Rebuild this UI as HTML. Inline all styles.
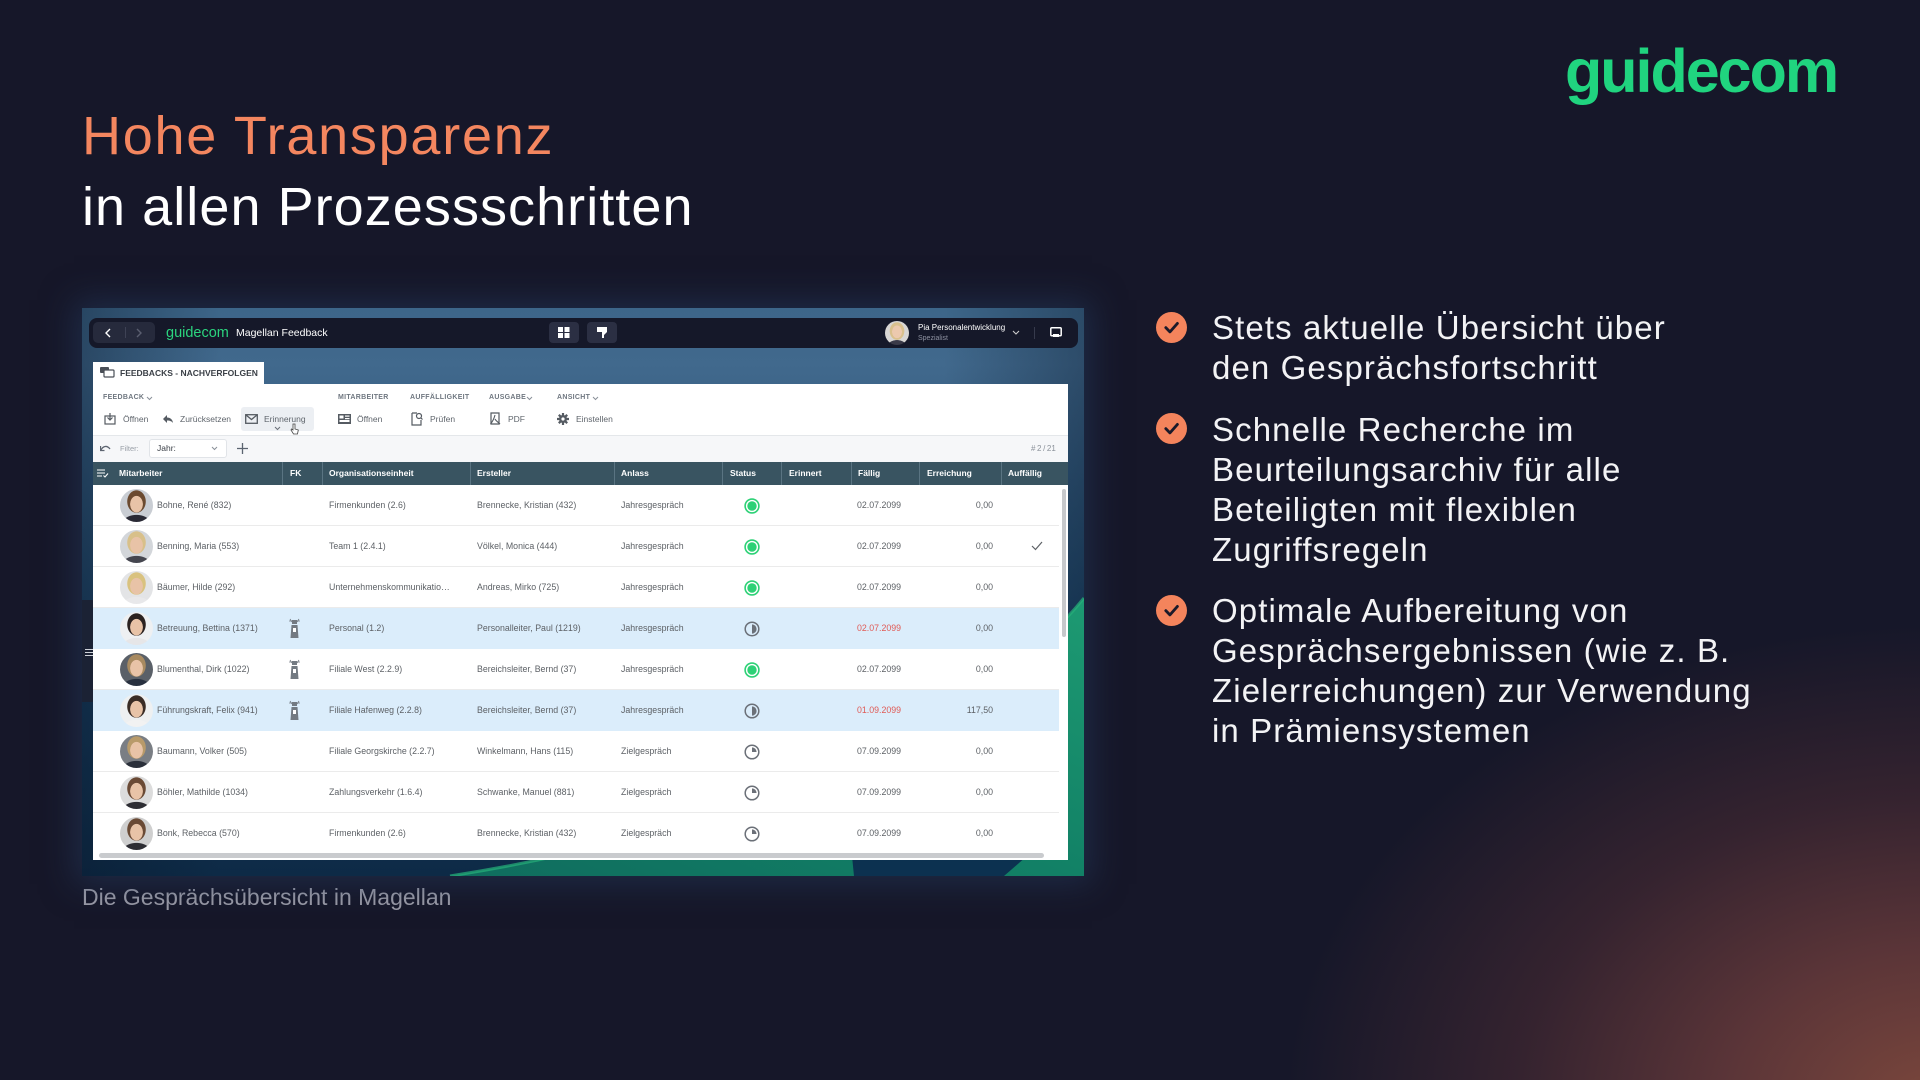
<!DOCTYPE html>
<html lang="de"><head><meta charset="utf-8">
<style>
*{margin:0;padding:0;box-sizing:border-box}
html,body{width:1920px;height:1080px;overflow:hidden}
body{position:relative;background:radial-gradient(ellipse 650px 480px at 1935px 1105px,#7b473c 0%,#5b3538 32%,#35232f 64%,rgba(22,23,41,0) 100%),#161729;font-family:"Liberation Sans",Arial,sans-serif}
.a{position:absolute;white-space:nowrap}
.r{position:absolute;left:93px;width:966px;height:41px;border-bottom:1px solid #ebebeb}
.r.h{background:#dbedfb;border-bottom-color:#dbedfb}
.c{position:absolute;top:14px;line-height:13px;font-size:8.8px;color:#5d6166;white-space:nowrap}
.av{position:absolute;left:27px;top:4px;width:33px;height:33px;border-radius:50%;
background:radial-gradient(ellipse 6.5px 8.5px at 50% 46%,#e8c3a7 95%,rgba(0,0,0,0) 100%),radial-gradient(ellipse 9.5px 11.5px at 50% 38%,var(--h) 95%,rgba(0,0,0,0) 100%),radial-gradient(ellipse 15px 10px at 50% 108%,var(--s) 95%,rgba(0,0,0,0) 100%),var(--b)}
.st{position:absolute;left:651px;top:12.5px}
.fk{position:absolute;left:195px;top:10px}
.hd{position:absolute;top:467px;line-height:13px;font-size:8.5px;font-weight:bold;color:#fff;white-space:nowrap}
.dv{position:absolute;top:462px;width:1px;height:23px;background:#5a7482}
.gl{position:absolute;top:393px;line-height:10px;font-size:7px;font-weight:bold;color:#6f7780;letter-spacing:.3px;white-space:nowrap}
.bt{position:absolute;top:413px;line-height:12px;font-size:8.5px;color:#5f656c;white-space:nowrap}
.ic{position:absolute;top:413px}
.bl{position:absolute;left:1212px;font-size:33px;line-height:40px;letter-spacing:1.1px;color:#f3f3f5;white-space:nowrap}
.ck{position:absolute;left:1156px}
</style></head><body>

<!-- Logo -->
<div class="a" style="left:1565px;top:41px;font-size:61px;line-height:61px;font-weight:bold;letter-spacing:-2px;color:#20d47f">guidecom</div>

<!-- Title -->
<div class="a" style="left:82px;top:109px;font-size:54px;line-height:54px;letter-spacing:1.75px;color:#f4865f">Hohe Transparenz</div>
<div class="a" style="left:82px;top:180px;font-size:54px;line-height:54px;letter-spacing:1.05px;color:#ffffff">in allen Prozessschritten</div>

<!-- Bullets -->
<svg class="ck" style="top:311.5px" width="31" height="31"><circle cx="15.5" cy="15.5" r="15.5" fill="#f4845c"/><path d="M9.8 15.6 L13.9 19.9 L21.4 11.4" fill="none" stroke="#1b1a2a" stroke-width="2.8" stroke-linecap="round" stroke-linejoin="round"/></svg>
<svg class="ck" style="top:412.5px" width="31" height="31"><circle cx="15.5" cy="15.5" r="15.5" fill="#f4845c"/><path d="M9.8 15.6 L13.9 19.9 L21.4 11.4" fill="none" stroke="#1b1a2a" stroke-width="2.8" stroke-linecap="round" stroke-linejoin="round"/></svg>
<svg class="ck" style="top:594.5px" width="31" height="31"><circle cx="15.5" cy="15.5" r="15.5" fill="#f4845c"/><path d="M9.8 15.6 L13.9 19.9 L21.4 11.4" fill="none" stroke="#1b1a2a" stroke-width="2.8" stroke-linecap="round" stroke-linejoin="round"/></svg>

<div class="bl" style="top:308px">Stets aktuelle Übersicht über<br>den Gesprächsfortschritt</div>
<div class="bl" style="top:410px">Schnelle Recherche im<br>Beurteilungsarchiv für alle<br>Beteiligten mit flexiblen<br>Zugriffsregeln</div>
<div class="bl" style="top:591px">Optimale Aufbereitung von<br>Gesprächsergebnissen (wie z. B.<br>Zielerreichungen) zur Verwendung<br>in Prämiensystemen</div>

<!-- Caption -->
<div class="a" style="left:82px;top:886px;font-size:23px;line-height:23px;color:#9a9aa6">Die Gesprächsübersicht in Magellan</div>

<!-- Screenshot background -->
<div class="a" style="left:82px;top:308px;width:1002px;height:568px;overflow:hidden;box-shadow:0 0 30px 8px rgba(38,62,98,.5);background:linear-gradient(90deg,rgba(8,22,40,.4) 0%,rgba(0,0,0,0) 14%,rgba(0,0,0,0) 86%,rgba(8,22,40,.35) 100%),linear-gradient(180deg,#3d6689 0%,#41698d 10%,#2f5679 32%,#183d5f 62%,#0d2a46 100%)">
<svg width="1002" height="568" style="position:absolute;left:0;top:0">
<defs><linearGradient id="gg" x1="0" y1="1" x2="1" y2="0"><stop offset="0" stop-color="#0f6c5e"/><stop offset="0.5" stop-color="#128166"/><stop offset="1" stop-color="#1d9a72"/></linearGradient></defs>
<path d="M368 568 C600 532 880 440 1002 290 L1002 568 Z" fill="url(#gg)"/>
<path d="M368 568 C600 532 880 440 1002 290" fill="none" stroke="#27b27a" stroke-width="3" opacity=".7"/>
<path d="M772 568 L922 568 L945 548 L770 548 Z" fill="#0c3150"/>
</svg>
</div>

<!-- Title bar -->
<div class="a" style="left:89px;top:318px;width:989px;height:30px;background:#151829;border-radius:8px"></div>
<div class="a" style="left:93px;top:322px;width:62px;height:21px;background:#262a3c;border-radius:5px"></div>
<svg class="a" style="left:104px;top:328px" width="8" height="10"><path d="M6 1 L2 5 L6 9" fill="none" stroke="#fff" stroke-width="1.4"/></svg>
<div class="a" style="left:125px;top:327px;width:1px;height:11px;background:#3e4255"></div>
<svg class="a" style="left:135px;top:328px" width="8" height="10"><path d="M2 1 L6 5 L2 9" fill="none" stroke="#5a5e70" stroke-width="1.4"/></svg>
<div class="a" style="left:166px;top:325px;font-size:14.5px;line-height:16px;color:#2bd47e">guidecom</div>
<div class="a" style="left:236px;top:327px;font-size:10.5px;line-height:12px;color:#fff">Magellan Feedback</div>
<div class="a" style="left:549px;top:322px;width:30px;height:21px;background:#2b2f43;border-radius:4px"></div>
<svg class="a" style="left:558px;top:327px" width="12" height="11"><rect x="0" y="0" width="5" height="5" fill="#fff"/><rect x="6.5" y="0" width="5" height="5" fill="#fff"/><rect x="0" y="6" width="5" height="5" fill="#fff"/><rect x="6.5" y="6" width="5" height="5" fill="#fff"/></svg>
<div class="a" style="left:587px;top:322px;width:30px;height:21px;background:#2b2f43;border-radius:4px"></div>
<svg class="a" style="left:597px;top:327px" width="11" height="12"><path d="M0 0 H10 V5 L7 8 V11 H5 V5 H0 Z" fill="#fff"/></svg>
<div class="a" style="left:885px;top:321px;width:24px;height:24px;border-radius:50%;background:radial-gradient(ellipse 5px 6.5px at 50% 45%,#ecc9ae 95%,rgba(0,0,0,0) 100%),radial-gradient(ellipse 7.5px 9px at 50% 42%,#d9c08d 95%,rgba(0,0,0,0) 100%),radial-gradient(ellipse 10px 7px at 50% 108%,#3a3a48 95%,rgba(0,0,0,0) 100%),#d8d6d4"></div>
<div class="a" style="left:918px;top:323px;font-size:8px;line-height:10px;color:#fff">Pia Personalentwicklung</div>
<div class="a" style="left:918px;top:334px;font-size:7px;line-height:9px;color:#8d91a0">Spezialist</div>
<svg class="a" style="left:1012px;top:330px" width="8" height="6"><path d="M1 1 L4 4 L7 1" fill="none" stroke="#ccc" stroke-width="1.1"/></svg>
<div class="a" style="left:1034px;top:327px;width:1px;height:12px;background:#363a4c"></div>
<svg class="a" style="left:1050px;top:327px" width="12" height="11"><rect x="0.8" y="0.8" width="10.4" height="8" rx="1" fill="none" stroke="#fff" stroke-width="1.5"/><rect x="3" y="7" width="6" height="3" fill="#fff"/></svg>

<!-- Left side tab -->
<div class="a" style="left:82px;top:600px;width:16px;height:102px;background:#1b2234;border-radius:0 6px 6px 0;border-right:1px solid #3a4660"></div>
<div class="a" style="left:85px;top:649px;width:8px;height:1.3px;background:#cfd3da;box-shadow:0 3px 0 #cfd3da,0 6px 0 #cfd3da"></div>

<!-- Tab -->
<div class="a" style="left:93px;top:362px;width:171px;height:23px;background:#fff"></div>
<svg class="a" style="left:100px;top:367px" width="15" height="12"><rect x="0" y="0" width="9" height="6" rx="1" fill="#4a4f57"/><rect x="4" y="3" width="10" height="7" rx="1" fill="#fff" stroke="#4a4f57" stroke-width="1.2"/></svg>
<div class="a" style="left:120px;top:367px;font-size:8.5px;line-height:12px;font-weight:bold;color:#3a3f46">FEEDBACKS - NACHVERFOLGEN</div>

<!-- Panel -->
<div class="a" style="left:93px;top:384px;width:975px;height:476px;background:#fff"></div>

<!-- Ribbon group labels -->
<div class="gl" style="left:103px">FEEDBACK</div>
<svg class="a" style="left:146px;top:396px" width="7" height="5"><path d="M1 1 L3.5 3.5 L6 1" fill="none" stroke="#8a9099" stroke-width="1"/></svg>
<div class="gl" style="left:338px">MITARBEITER</div>
<div class="gl" style="left:410px">AUFFÄLLIGKEIT</div>
<div class="gl" style="left:489px">AUSGABE</div>
<svg class="a" style="left:526px;top:396px" width="7" height="5"><path d="M1 1 L3.5 3.5 L6 1" fill="none" stroke="#8a9099" stroke-width="1"/></svg>
<div class="gl" style="left:557px">ANSICHT</div>
<svg class="a" style="left:592px;top:396px" width="7" height="5"><path d="M1 1 L3.5 3.5 L6 1" fill="none" stroke="#8a9099" stroke-width="1"/></svg>

<!-- Ribbon buttons -->
<div class="a" style="left:241px;top:407px;width:73px;height:24px;background:#eceff3;border-radius:3px"></div>
<svg class="ic" style="left:104px" width="12" height="12"><rect x="1" y="3" width="10" height="8" fill="none" stroke="#555b62" stroke-width="1.2"/><path d="M6 0 V7 M3.5 4.5 L6 7 L8.5 4.5" fill="none" stroke="#555b62" stroke-width="1.2"/></svg>
<div class="bt" style="left:123px">Öffnen</div>
<svg class="ic" style="left:162px;top:414px" width="12" height="10"><path d="M5 1 L1 5 L5 9 V6.5 C8 6.5 10 7.5 11 9 C10.5 5.5 8.5 3.5 5 3.5 Z" fill="#555b62"/></svg>
<div class="bt" style="left:180px">Zurücksetzen</div>
<svg class="ic" style="left:245px;top:414px" width="13" height="10"><rect x="0.7" y="0.7" width="11.6" height="8.6" fill="none" stroke="#555b62" stroke-width="1.3"/><path d="M1 1 L6.5 5.5 L12 1" fill="none" stroke="#555b62" stroke-width="1.3"/></svg>
<div class="bt" style="left:264px">Erinnerung</div>
<svg class="a" style="left:274px;top:426px" width="7" height="5"><path d="M1 1 L3.5 3.5 L6 1" fill="none" stroke="#6a7078" stroke-width="1"/></svg>
<svg class="a" style="left:290px;top:423px" width="9" height="12"><path d="M3 1 V7 L1.5 6 L1 7 L3.5 11 H7.5 L8.3 7 L5 6 V1 Z" fill="#fff" stroke="#444" stroke-width=".8"/></svg>
<svg class="ic" style="left:338px;top:414px" width="13" height="10"><rect x="0" y="0" width="13" height="10" fill="#555b62"/><rect x="1.5" y="1.5" width="4" height="3" fill="#fff"/><rect x="7" y="1.5" width="4.5" height="1.2" fill="#fff"/><rect x="7" y="4" width="4.5" height="1.2" fill="#fff"/><rect x="1.5" y="6" width="10" height="2" fill="#fff"/></svg>
<div class="bt" style="left:357px">Öffnen</div>
<svg class="ic" style="left:411px;top:412px" width="12" height="14"><path d="M1 1 H6 M1 1 V13 H10 V8" fill="none" stroke="#555b62" stroke-width="1.2"/><circle cx="8" cy="4" r="2.5" fill="none" stroke="#555b62" stroke-width="1.2"/><path d="M9.8 5.8 L11.5 7.5" stroke="#555b62" stroke-width="1.2"/></svg>
<div class="bt" style="left:430px">Prüfen</div>
<svg class="ic" style="left:489px;top:412px" width="12" height="14"><path d="M2 1 H10 V12 H2 Z" fill="none" stroke="#555b62" stroke-width="1.2"/><path d="M6 3 C5 7 4 9 1.5 12 M6 7 C7 9 9 10 11 12" fill="none" stroke="#555b62" stroke-width="1.1"/></svg>
<div class="bt" style="left:508px">PDF</div>
<svg class="ic" style="left:557px;top:413px" width="12" height="12"><circle cx="6" cy="6" r="4" fill="#555b62"/><g stroke="#555b62" stroke-width="2.2"><path d="M6 0 V12 M0 6 H12 M1.8 1.8 L10.2 10.2 M10.2 1.8 L1.8 10.2"/></g><circle cx="6" cy="6" r="1.6" fill="#fff"/></svg>
<div class="bt" style="left:576px">Einstellen</div>

<!-- Filter row -->
<div class="a" style="left:93px;top:435px;width:975px;height:27px;background:#f6f7f9;border-top:1px solid #e4e7ea"></div>
<svg class="a" style="left:100px;top:444px" width="11" height="8"><path d="M1 6 C3 2 7 1 10 5" fill="none" stroke="#5d6470" stroke-width="1.3"/><path d="M0.5 2 V6.5 H4.5" fill="none" stroke="#5d6470" stroke-width="1.3"/></svg>
<div class="a" style="left:120px;top:443px;font-size:7.5px;line-height:11px;color:#9aa0a8">Filter:</div>
<div class="a" style="left:149px;top:439px;width:78px;height:19px;background:#fff;border:1px solid #e1e4e8;border-radius:3px"></div>
<div class="a" style="left:157px;top:442px;font-size:8.5px;line-height:12px;color:#3b4048">Jahr:</div>
<svg class="a" style="left:211px;top:446px" width="7" height="5"><path d="M1 1 L3.5 3.5 L6 1" fill="none" stroke="#8a9099" stroke-width="1"/></svg>
<svg class="a" style="left:237px;top:443px" width="11" height="11"><path d="M5.5 0 V11 M0 5.5 H11" stroke="#5b6470" stroke-width="1.3"/></svg>
<div class="a" style="left:1031px;top:443px;font-size:8px;line-height:11px;color:#8a9099">#&#8201;2&#8201;/&#8201;21</div>

<!-- Header row -->
<div class="a" style="left:93px;top:462px;width:975px;height:23px;background:#395461"></div>
<svg class="a" style="left:97px;top:469px" width="12" height="9"><path d="M0 1 H8 M0 4 H8 M0 7 H5" stroke="#fff" stroke-width="1.1"/><path d="M6.5 6.5 L8 8 L11 4.5" fill="none" stroke="#fff" stroke-width="1.1"/></svg>
<div class="hd" style="left:119px">Mitarbeiter</div>
<div class="dv" style="left:282px"></div>
<div class="hd" style="left:290px">FK</div>
<div class="dv" style="left:322px"></div>
<div class="hd" style="left:329px">Organisationseinheit</div>
<div class="dv" style="left:470px"></div>
<div class="hd" style="left:477px">Ersteller</div>
<div class="dv" style="left:614px"></div>
<div class="hd" style="left:621px">Anlass</div>
<div class="dv" style="left:722px"></div>
<div class="hd" style="left:730px">Status</div>
<div class="dv" style="left:781px"></div>
<div class="hd" style="left:789px">Erinnert</div>
<div class="dv" style="left:851px"></div>
<div class="hd" style="left:858px">Fällig</div>
<div class="dv" style="left:919px"></div>
<div class="hd" style="left:927px">Erreichung</div>
<div class="dv" style="left:1001px"></div>
<div class="hd" style="left:1008px">Auffällig</div>

<!-- Rows -->
<div class="r" style="top:485px">
 <div class="av" style="--h:#6b4a30;--s:#2a2a35;--b:#c9cdd3"></div>
 <div class="c" style="left:64px">Bohne, René (832)</div>
 <div class="c" style="left:236px">Firmenkunden (2.6)</div>
 <div class="c" style="left:384px">Brennecke, Kristian (432)</div>
 <div class="c" style="left:528px">Jahresgespräch</div>
 <svg class="st" width="16" height="16"><circle cx="8" cy="8" r="6.9" fill="#fff" stroke="#2dd176" stroke-width="1.6"/><circle cx="8" cy="8" r="4.7" fill="#2dd176"/></svg>
 <div class="c" style="left:764px">02.07.2099</div>
 <div class="c" style="right:66px">0,00</div>
</div>
<div class="r" style="top:526px">
 <div class="av" style="--h:#d8c08a;--s:#45464f;--b:#d3d6da"></div>
 <div class="c" style="left:64px">Benning, Maria (553)</div>
 <div class="c" style="left:236px">Team 1 (2.4.1)</div>
 <div class="c" style="left:384px">Völkel, Monica (444)</div>
 <div class="c" style="left:528px">Jahresgespräch</div>
 <svg class="st" width="16" height="16"><circle cx="8" cy="8" r="6.9" fill="#fff" stroke="#2dd176" stroke-width="1.6"/><circle cx="8" cy="8" r="4.7" fill="#2dd176"/></svg>
 <div class="c" style="left:764px">02.07.2099</div>
 <div class="c" style="right:66px">0,00</div>
 <svg style="position:absolute;left:938px;top:15px" width="12" height="10"><path d="M1 5 L4.5 8.5 L11 1" fill="none" stroke="#5d6166" stroke-width="1.2"/></svg>
</div>
<div class="r" style="top:567px">
 <div class="av" style="--h:#d9c27f;--s:#e8e8ea;--b:#e3e4e6"></div>
 <div class="c" style="left:64px">Bäumer, Hilde (292)</div>
 <div class="c" style="left:236px">Unternehmenskommunikatio…</div>
 <div class="c" style="left:384px">Andreas, Mirko (725)</div>
 <div class="c" style="left:528px">Jahresgespräch</div>
 <svg class="st" width="16" height="16"><circle cx="8" cy="8" r="6.9" fill="#fff" stroke="#2dd176" stroke-width="1.6"/><circle cx="8" cy="8" r="4.7" fill="#2dd176"/></svg>
 <div class="c" style="left:764px">02.07.2099</div>
 <div class="c" style="right:66px">0,00</div>
</div>
<div class="r h" style="top:608px">
 <div class="av" style="--h:#2b2220;--s:#e6e6e8;--b:#eef0f2"></div>
 <div class="c" style="left:64px">Betreuung, Bettina (1371)</div>
 <svg class="fk" width="13" height="21"><path d="M1 3 H12 M2 1 L4 4 M11 1 L9 4" stroke="#737a82" stroke-width=".8"/><rect x="4" y="2" width="5" height="4" fill="#737a82"/><path d="M3.5 7 H9.5 L10.5 20 H2.5 Z" fill="#737a82"/><rect x="5" y="10" width="3" height="4" fill="#fff"/></svg>
 <div class="c" style="left:236px">Personal (1.2)</div>
 <div class="c" style="left:384px">Personalleiter, Paul (1219)</div>
 <div class="c" style="left:528px">Jahresgespräch</div>
 <svg class="st" width="16" height="16"><circle cx="8" cy="8" r="6.8" fill="none" stroke="#6b7078" stroke-width="1.5"/><path d="M8 3.4 A4.6 4.6 0 0 1 8 12.6 Z" fill="#6b7078"/></svg>
 <div class="c" style="left:764px;color:#e05a55">02.07.2099</div>
 <div class="c" style="right:66px">0,00</div>
</div>
<div class="r" style="top:649px">
 <div class="av" style="--h:#a88a60;--s:#28303f;--b:#5a6068"></div>
 <div class="c" style="left:64px">Blumenthal, Dirk (1022)</div>
 <svg class="fk" width="13" height="21"><path d="M1 3 H12 M2 1 L4 4 M11 1 L9 4" stroke="#737a82" stroke-width=".8"/><rect x="4" y="2" width="5" height="4" fill="#737a82"/><path d="M3.5 7 H9.5 L10.5 20 H2.5 Z" fill="#737a82"/><rect x="5" y="10" width="3" height="4" fill="#fff"/></svg>
 <div class="c" style="left:236px">Filiale West (2.2.9)</div>
 <div class="c" style="left:384px">Bereichsleiter, Bernd (37)</div>
 <div class="c" style="left:528px">Jahresgespräch</div>
 <svg class="st" width="16" height="16"><circle cx="8" cy="8" r="6.9" fill="#fff" stroke="#2dd176" stroke-width="1.6"/><circle cx="8" cy="8" r="4.7" fill="#2dd176"/></svg>
 <div class="c" style="left:764px">02.07.2099</div>
 <div class="c" style="right:66px">0,00</div>
</div>
<div class="r h" style="top:690px">
 <div class="av" style="--h:#3a2c25;--s:#f2f2f2;--b:#eef0f1"></div>
 <div class="c" style="left:64px">Führungskraft, Felix (941)</div>
 <svg class="fk" width="13" height="21"><path d="M1 3 H12 M2 1 L4 4 M11 1 L9 4" stroke="#737a82" stroke-width=".8"/><rect x="4" y="2" width="5" height="4" fill="#737a82"/><path d="M3.5 7 H9.5 L10.5 20 H2.5 Z" fill="#737a82"/><rect x="5" y="10" width="3" height="4" fill="#fff"/></svg>
 <div class="c" style="left:236px">Filiale Hafenweg (2.2.8)</div>
 <div class="c" style="left:384px">Bereichsleiter, Bernd (37)</div>
 <div class="c" style="left:528px">Jahresgespräch</div>
 <svg class="st" width="16" height="16"><circle cx="8" cy="8" r="6.8" fill="none" stroke="#6b7078" stroke-width="1.5"/><path d="M8 3.4 A4.6 4.6 0 0 1 8 12.6 Z" fill="#6b7078"/></svg>
 <div class="c" style="left:764px;color:#e05a55">01.09.2099</div>
 <div class="c" style="right:66px">117,50</div>
</div>
<div class="r" style="top:731px">
 <div class="av" style="--h:#b89a6a;--s:#2a2f3a;--b:#7a7e84"></div>
 <div class="c" style="left:64px">Baumann, Volker (505)</div>
 <div class="c" style="left:236px">Filiale Georgskirche (2.2.7)</div>
 <div class="c" style="left:384px">Winkelmann, Hans (115)</div>
 <div class="c" style="left:528px">Zielgespräch</div>
 <svg class="st" width="16" height="16"><circle cx="8" cy="8" r="6.8" fill="none" stroke="#6b7078" stroke-width="1.5"/><path d="M8 8 L8 3.4 A4.6 4.6 0 0 1 12.6 8 Z" fill="#6b7078"/></svg>
 <div class="c" style="left:764px">07.09.2099</div>
 <div class="c" style="right:66px">0,00</div>
</div>
<div class="r" style="top:772px">
 <div class="av" style="--h:#6a4a35;--s:#2d2d33;--b:#dcdcdc"></div>
 <div class="c" style="left:64px">Böhler, Mathilde (1034)</div>
 <div class="c" style="left:236px">Zahlungsverkehr (1.6.4)</div>
 <div class="c" style="left:384px">Schwanke, Manuel (881)</div>
 <div class="c" style="left:528px">Zielgespräch</div>
 <svg class="st" width="16" height="16"><circle cx="8" cy="8" r="6.8" fill="none" stroke="#6b7078" stroke-width="1.5"/><path d="M8 8 L8 3.4 A4.6 4.6 0 0 1 12.6 8 Z" fill="#6b7078"/></svg>
 <div class="c" style="left:764px">07.09.2099</div>
 <div class="c" style="right:66px">0,00</div>
</div>
<div class="r" style="top:813px;border-bottom:none">
 <div class="av" style="--h:#6a4a35;--s:#2d2d33;--b:#cfcfcf"></div>
 <div class="c" style="left:64px">Bonk, Rebecca (570)</div>
 <div class="c" style="left:236px">Firmenkunden (2.6)</div>
 <div class="c" style="left:384px">Brennecke, Kristian (432)</div>
 <div class="c" style="left:528px">Zielgespräch</div>
 <svg class="st" width="16" height="16"><circle cx="8" cy="8" r="6.8" fill="none" stroke="#6b7078" stroke-width="1.5"/><path d="M8 8 L8 3.4 A4.6 4.6 0 0 1 12.6 8 Z" fill="#6b7078"/></svg>
 <div class="c" style="left:764px">07.09.2099</div>
 <div class="c" style="right:66px">0,00</div>
</div>

<!-- Scrollbars -->
<div class="a" style="left:1062px;top:489px;width:4px;height:148px;background:#c6c8cb;border-radius:2px"></div>
<div class="a" style="left:99px;top:853px;width:945px;height:5px;background:#c9cbce;border-radius:3px"></div>

</body></html>
